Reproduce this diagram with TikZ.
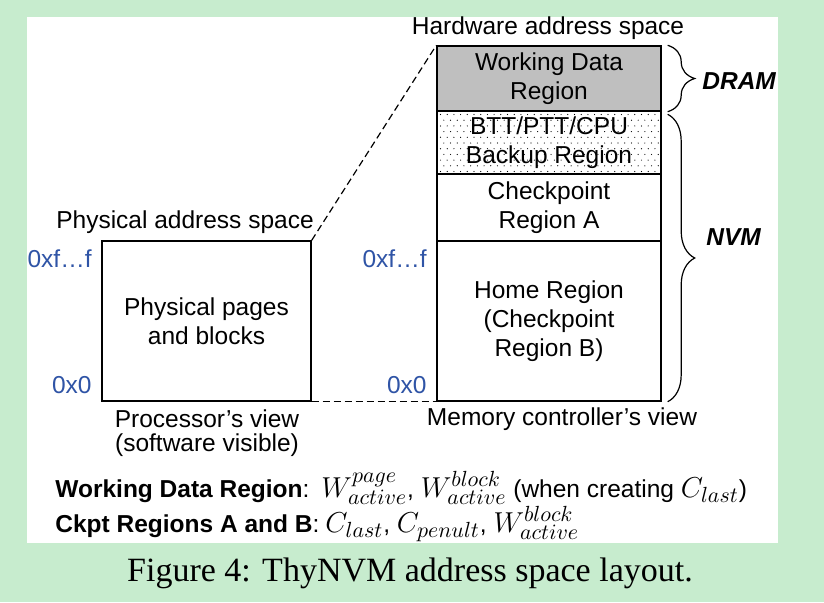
\documentclass[tikz,border=0pt]{standalone}
\usepackage{fontspec}
\setmainfont{Liberation Sans}
\newfontfamily\figcapfont{Liberation Serif}
\usetikzlibrary{decorations.pathreplacing}

\definecolor{bggreen}{RGB}{199,236,206}
\definecolor{addrblue}{RGB}{47,84,166}
\definecolor{dramgray}{RGB}{191,191,191}
\newcommand{\diagfont}{\fontsize{12.25}{14.5}\selectfont}
\DeclareMathSizes{12.25}{13.5}{11}{8}

\tikzset{
  region/.style={draw, rectangle, line width=0.7pt, minimum width=112pt, inner sep=0pt, align=center, font=\diagfont},
  addr/.style={anchor=east, inner sep=0pt, text=addrblue, font=\diagfont},
  viewtext/.style={inner sep=0pt, align=center, font=\fontsize{12.25}{12.25}\selectfont},
  memlabel/.style={anchor=west, inner sep=0pt, font=\diagfont\bfseries\itshape},
  mapline/.style={dash pattern=on 3.5pt off 2pt, line width=0.6pt},
  memsplit/.style={decorate, decoration={brace, amplitude=13.5pt}, line width=0.6pt}
}

\begin{document}
\begin{tikzpicture}[x=0.5pt, y=-0.5pt]
    % page background
    \fill[bggreen] (0,0) rectangle (824,602);
    \fill[white] (27,17) rectangle (778,543);

    % processor's view
    \node (physbox) at (206.5,321) [region, minimum width=104.5pt, minimum height=80pt] {Physical pages\\and blocks};
    \node (physlabel) at (185,222) [viewtext] {Physical address space};
    \node (physview) at (207,433) [viewtext] {Processor's view\\(software visible)};
    \node (physhigh) at (92,259) [addr] {0xf…f};
    \node (physlow) at (92,385) [addr] {0x0};

    % dotted backup region
    \foreach \r in {0,...,10}
        \foreach \c in {0,...,32}
            \fill ({440.5+6.7*\c+3.35*mod(\r,2)}, {114.5+5.7*\r}) circle (0.3pt);

    % memory controller's view
    \node (wdram) at (549,78.5) [region, fill=dramgray, minimum height=32.5pt] {Working Data\\Region};
    \node (btt) at (549,142.5) [region, minimum height=31.5pt] {BTT/PTT/CPU\\Backup Region};
    \node (ckpta) at (549,207.5) [region, minimum height=33.5pt] {Checkpoint\\Region A};
    \node (home) at (549,321) [region, minimum height=80pt] {Home Region\\(Checkpoint\\Region B)};
    \node (hwlabel) at (548,28) [viewtext] {Hardware address space};
    \node (hwview) at (562,419) [viewtext] {Memory controller's view};
    \node (hwhigh) at (427,259) [addr] {0xf…f};
    \node (hwlow) at (427,385) [addr] {0x0};

    % mapping between the two views
    \draw[mapline] (physbox.north east) -- (wdram.north west);
    \draw[mapline] (physbox.south east) -- (home.south west);

    % memory types
    \draw[memsplit] ([xshift=3pt]wdram.north east) -- ([xshift=3pt]wdram.south east);
    \draw[memsplit] ([xshift=3pt,yshift=-2pt]btt.north east) -- ([xshift=3pt]home.south east);
    \node (dram) at (702,81) [memlabel] {DRAM};
    \node (nvm) at (706,237) [memlabel] {NVM};

    % legend
    \node (wdlegend) at (55,497) [anchor=base west, inner sep=0pt, font=\diagfont] {\textbf{Working Data Region}:\hspace{6pt}$W^{page}_{active}$, $W^{block}_{active}$ (when creating $C_{last}$)};
    \node (ckptlegend) at (55,532) [anchor=base west, inner sep=0pt, font=\diagfont] {\textbf{Ckpt Regions A and B}:\hspace{3pt}$C_{last}$, $C_{penult}$, $W^{block}_{active}$};

    % caption
    \node (figcap) at (410,573) [inner sep=0pt, font=\figcapfont\fontsize{17}{19}\selectfont] {Figure 4: ThyNVM address space layout.};
\end{tikzpicture}
\end{document}
